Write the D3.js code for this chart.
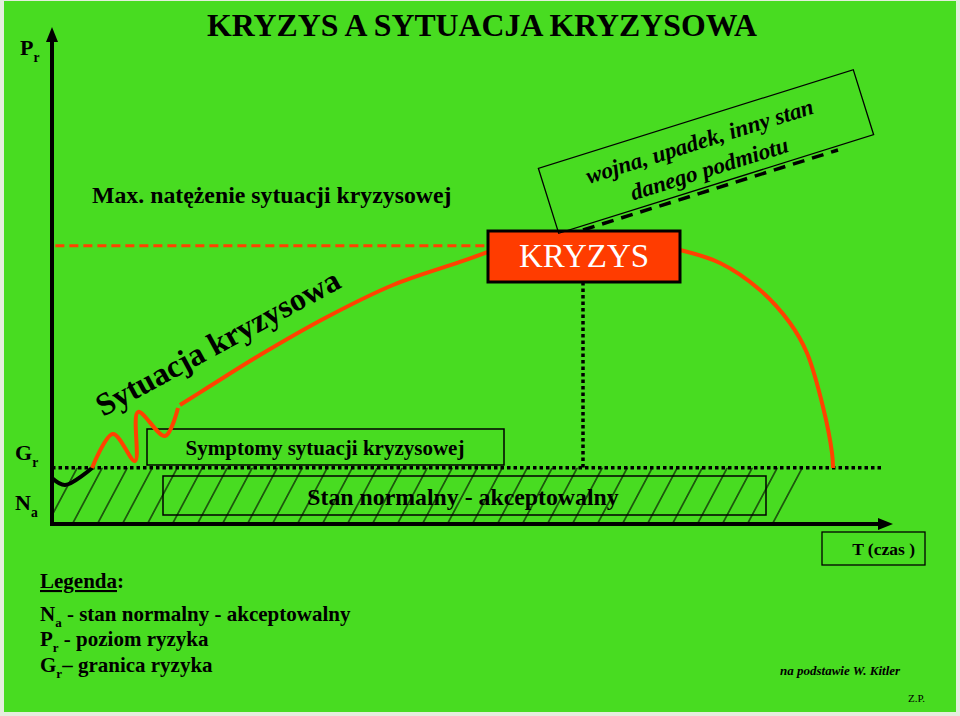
<!DOCTYPE html>
<html lang="pl">
<head>
<meta charset="UTF-8">
<title>Kryzys a sytuacja kryzysowa</title>
<script src="https://d3js.org/d3.v7.min.js"></script>
<style>
  html, body { margin: 0; padding: 0; background: #e4eedd; }
  svg { display: block; }
  text { font-family: "Liberation Serif", "Times New Roman", serif; fill: #000; }
</style>
</head>
<body>
<div id="chart"></div>
<script>
// --- data (time units 0..100 on T, risk units 0..100 on P_r) ---
const normalPathT = [0, 1.55, 4.76];
const normalPathP = [9.26, 7.85, 11.27];

const symptomPathT = [4.76, 7.25, 9.87, 10.23, 13.44, 14.98];
const symptomPathP = [11.27, 18.11, 12.68, 22.54, 17.71, 23.34];

const risePathT = [15.22, 18.43, 24.73, 32.70, 40.55, 48.51, 51.84];
const risePathP = [23.94, 27.36, 34.0, 41.65, 48.09, 52.72, 54.73];

const fallPathT = [74.67, 79.43, 84.19, 87.75, 89.77, 91.68, 92.75, 92.87];
const fallPathP = [55.13, 52.52, 47.08, 40.44, 34.41, 23.54, 14.29, 11.27];

const riskLimit = 11.3;      // G_r
const maxLevel = 56;         // max. natężenie
const crisisT = 63.14;       // KRYZYS
const limitEndT = 98.8;
const maxLineEndT = 51.84;
const hatchEndT = [85.97, 89.5];

const legendLines = [
  ["N", "a", " - stan normalny - akceptowalny"],
  ["P", "r", " - poziom ryzyka"],
  ["G", "r", "\u2013 granica ryzyka"]
];

const W = 960, H = 716;
const red = "#ff4200";

const svg = d3.select("#chart").append("svg")
  .attr("width", W).attr("height", H);

const defs = svg.append("defs");
const hatch = defs.append("pattern")
  .attr("id", "hatch")
  .attr("patternUnits", "userSpaceOnUse")
  .attr("width", 25).attr("height", 60)
  .attr("patternTransform", "skewX(-28)");
hatch.append("line")
  .attr("x1", 1).attr("x2", 1).attr("y1", 0).attr("y2", 60)
  .attr("stroke", "#000").attr("stroke-width", 1.2);

// background
svg.append("rect")
  .attr("x", 4).attr("y", 1).attr("width", 952).attr("height", 711)
  .attr("fill", "#48dc21");

const x = d3.scaleLinear().domain([0, 100]).range([52, 893]);
const y = d3.scaleLinear().domain([0, 100]).range([524, 27]);

// hatched normal state band
svg.append("path")
  .attr("d", `M${x(0)},${y(0)}L${x(hatchEndT[0])},${y(0)}L${x(hatchEndT[1])},${y(riskLimit)}L${x(0)},${y(riskLimit)}Z`)
  .attr("fill", "url(#hatch)");

// boxes
svg.append("rect")
  .attr("x", 147).attr("y", 429).attr("width", 357).attr("height", 36)
  .attr("fill", "none").attr("stroke", "#000").attr("stroke-width", 1.5);
svg.append("text")
  .attr("x", 325).attr("y", 455).attr("text-anchor", "middle")
  .attr("font-size", 21).attr("font-weight", "bold")
  .text("Symptomy sytuacji kryzysowej");

svg.append("rect")
  .attr("x", 163).attr("y", 476).attr("width", 603).attr("height", 39)
  .attr("fill", "none").attr("stroke", "#000").attr("stroke-width", 1.5);
svg.append("text")
  .attr("x", 463).attr("y", 505).attr("text-anchor", "middle")
  .attr("font-size", 23.8).attr("font-weight", "bold")
  .text("Stan normalny - akceptowalny");

// G_r dotted line
svg.append("line")
  .attr("x1", x(0)).attr("x2", x(limitEndT))
  .attr("y1", y(riskLimit)).attr("y2", y(riskLimit))
  .attr("stroke", "#000").attr("stroke-width", 3.5)
  .attr("stroke-dasharray", "3.5,3");

// crisis vertical dotted line
svg.append("line")
  .attr("x1", x(crisisT)).attr("x2", x(crisisT))
  .attr("y1", 282).attr("y2", y(riskLimit))
  .attr("stroke", "#000").attr("stroke-width", 3.5)
  .attr("stroke-dasharray", "3.5,3");

// max level dashed red line
svg.append("line")
  .attr("x1", x(0.4)).attr("x2", x(maxLineEndT))
  .attr("y1", y(maxLevel)).attr("y2", y(maxLevel))
  .attr("stroke", red).attr("stroke-width", 3)
  .attr("stroke-dasharray", "9,5");

// curves
const line = d3.line()
  .x(d => x(d[0])).y(d => y(d[1]))
  .curve(d3.curveCatmullRom.alpha(0.5));

svg.append("path")
  .attr("d", line(d3.zip(normalPathT, normalPathP)))
  .attr("fill", "none").attr("stroke", "#000").attr("stroke-width", 4);
[[symptomPathT, symptomPathP], [risePathT, risePathP], [fallPathT, fallPathP]].forEach(([t, p]) => {
  svg.append("path")
    .attr("d", line(d3.zip(t, p)))
    .attr("fill", "none").attr("stroke", red).attr("stroke-width", 4);
});

// axes with arrows
svg.append("line")
  .attr("x1", x(0)).attr("x2", x(0)).attr("y1", y(0) + 2).attr("y2", y(100) + 12)
  .attr("stroke", "#000").attr("stroke-width", 4);
svg.append("path")
  .attr("d", `M${x(0)},${y(100)}L${x(0) - 6},${y(100) + 15}L${x(0) + 6},${y(100) + 15}Z`)
  .attr("fill", "#000");
svg.append("line")
  .attr("x1", x(0) - 2).attr("x2", x(100) - 12).attr("y1", y(0)).attr("y2", y(0))
  .attr("stroke", "#000").attr("stroke-width", 4);
svg.append("path")
  .attr("d", `M${x(100)},${y(0)}L${x(100) - 15},${y(0) - 6}L${x(100) - 15},${y(0) + 6}Z`)
  .attr("fill", "#000");

// black dashed line to the note
svg.append("line")
  .attr("x1", x(crisisT)).attr("y1", 230).attr("x2", 838).attr("y2", 150)
  .attr("stroke", "#000").attr("stroke-width", 3.5)
  .attr("stroke-dasharray", "12,8");

// KRYZYS box
svg.append("rect")
  .attr("x", 488).attr("y", 231).attr("width", 192).attr("height", 51)
  .attr("fill", "#ff3c00").attr("stroke", "#000").attr("stroke-width", 3);
svg.append("text")
  .attr("x", 584).attr("y", 267).attr("text-anchor", "middle")
  .attr("font-size", 33).style("fill", "#fff")
  .text("KRYZYS");

// rotated note
const note = svg.append("g").attr("transform", "translate(706,151.5) rotate(-17.4)");
note.append("rect")
  .attr("x", -165).attr("y", -34).attr("width", 330).attr("height", 68)
  .attr("fill", "none").attr("stroke", "#000").attr("stroke-width", 1.3);
note.append("text")
  .attr("x", -3).attr("y", -4).attr("text-anchor", "middle")
  .attr("font-size", 23).attr("font-weight", "bold").attr("font-style", "italic")
  .text("wojna, upadek, inny stan");
note.append("text")
  .attr("x", -2).attr("y", 25).attr("text-anchor", "middle")
  .attr("font-size", 23).attr("font-weight", "bold").attr("font-style", "italic")
  .text("danego podmiotu");

// rotated label
svg.append("text")
  .attr("transform", "translate(103,417) rotate(-28.5)")
  .attr("font-size", 32).attr("font-weight", "bold")
  .text("Sytuacja kryzysowa");

// title and labels
svg.append("text")
  .attr("x", 207).attr("y", 36)
  .attr("font-size", 31.8).attr("font-weight", "bold")
  .text("KRYZYS A SYTUACJA KRYZYSOWA");

svg.append("text")
  .attr("x", 92).attr("y", 203)
  .attr("font-size", 23.8).attr("font-weight", "bold")
  .text("Max. natężenie sytuacji kryzysowej");

function subLabel(g, px, py, main, sub, size) {
  const t = g.append("text").attr("x", px).attr("y", py)
    .attr("font-size", size).attr("font-weight", "bold");
  t.append("tspan").text(main);
  t.append("tspan").attr("font-size", size * 0.62).attr("dy", size * 0.3).text(sub);
  return t;
}
subLabel(svg, 20, 55, "P", "r", 22);
subLabel(svg, 15, 460, "G", "r", 22);
subLabel(svg, 15, 510, "N", "a", 22);

// T (czas) box
svg.append("rect")
  .attr("x", 822).attr("y", 532).attr("width", 103).attr("height", 33)
  .attr("fill", "none").attr("stroke", "#000").attr("stroke-width", 1.3);
svg.append("text")
  .attr("x", 915).attr("y", 555).attr("text-anchor", "end")
  .attr("font-size", 17.5).attr("font-weight", "bold")
  .text("T (czas )");

// legend
const leg = svg.append("text")
  .attr("x", 40).attr("y", 588)
  .attr("font-size", 21).attr("font-weight", "bold");
leg.append("tspan").attr("text-decoration", "underline").text("Legenda");
leg.append("tspan").text(":");

const legY = [621, 646, 672];
legendLines.forEach((l, i) => {
  const t = svg.append("text").attr("x", 40).attr("y", legY[i])
    .attr("font-size", 21).attr("font-weight", "bold");
  t.append("tspan").text(l[0]);
  t.append("tspan").attr("font-size", 13).attr("dy", 6).text(l[1]);
  t.append("tspan").attr("dy", -6).text(l[2]);
});

// footer
svg.append("text")
  .attr("x", 780).attr("y", 675)
  .attr("font-size", 13).attr("font-weight", "bold").attr("font-style", "italic")
  .text("na podstawie W. Kitler");
svg.append("text")
  .attr("x", 908).attr("y", 702)
  .attr("font-size", 11)
  .text("Z.P.");
</script>
</body>
</html>
